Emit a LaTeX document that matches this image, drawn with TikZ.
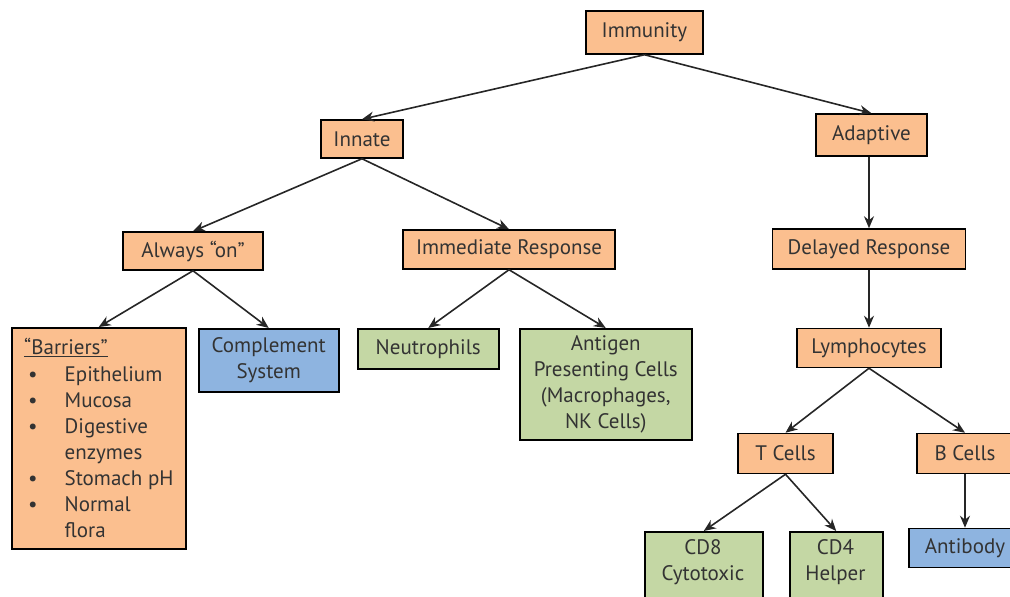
\documentclass[tikz,border=0pt]{standalone}
\usepackage{fontspec}
\setmainfont{PT Sans}
\usetikzlibrary{arrows.meta}
\definecolor{orbox}{HTML}{FBBF8F}
\definecolor{blbox}{HTML}{8EB4E0}
\definecolor{grbox}{HTML}{C4D7A4}
\definecolor{txt}{HTML}{333333}
\tikzset{
  box/.style={draw=black, line width=1.5pt, inner sep=0pt, align=center, text=txt,
    font=\fontsize{21}{26}\selectfont},
  orange/.style={box, fill=orbox},
  blue/.style={box, fill=blbox},
  green/.style={box, fill=grbox},
  lbl/.style={inner sep=0pt, align=center, text=txt, font=\fontsize{21}{26}\selectfont},
  conn/.style={line width=1.6pt, draw=black!85, -{Stealth[length=12pt,width=10pt]}}
}
\begin{document}
\begin{tikzpicture}[x=1pt,y=-1pt]
\useasboundingbox (0,0) rectangle (1010,597);
\clip (0,0) rectangle (1010,597);
\node[orange, minimum width=117, minimum height=43] (immunity) at (644.5,32.5) {Immunity};
\node[orange, minimum width=82, minimum height=38] (innate) at (362,139) {Innate};
\node[orange, minimum width=111, minimum height=42] (adaptive) at (871.5,135) {Adaptive};
\node[orange, minimum width=140, minimum height=38] (always) at (193,251) {Always “on”};
\node[orange, minimum width=212, minimum height=39] (immediate) at (509,249.5) {Immediate Response};
\node[orange, minimum width=193, minimum height=40] (delayed) at (869,249) {Delayed Response};
\node[orange, anchor=north west, minimum width=174, minimum height=221] (barriers) at (11,327) {};
\node[anchor=north west, inner sep=0pt, text=txt, font=\fontsize{21}{26}\selectfont, align=left] (barrierstext) at (24,338)
  {\underline{“Barriers”}\\[6pt]
   \begin{tabular}{@{\hspace{4pt}}l@{\hspace{27pt}}l@{}}
   \textbullet & Epithelium\\
   \textbullet & Mucosa\\
   \textbullet & Digestive\\
               & enzymes\\
   \textbullet & Stomach pH\\
   \textbullet & Normal\\
               & flora
   \end{tabular}};
\node[blue, anchor=north west, minimum width=140, minimum height=63] (complement) at (198,328) {Complement\\System};
\node[green, anchor=north west, minimum width=141, minimum height=40] (neutro) at (357,328) {Neutrophils};
\node[green, anchor=north west, minimum width=172, minimum height=111] (apc) at (519,328) {Antigen\\Presenting Cells\\(Macrophages,\\NK Cells)};
\node[orange, minimum width=144, minimum height=39] (lympho) at (869,348) {Lymphocytes};
\node[orange, minimum width=95, minimum height=40] (tcells) at (785.5,453.5) {T Cells};
\node[orange, minimum width=96, minimum height=40] (bcells) at (965,453.5) {B Cells};
\node[green, anchor=north west, minimum width=118, minimum height=80] (cd8) at (644,531) {};
\node[lbl] (cd8text) at (703,562) {CD8\\Cytotoxic};
\node[green, anchor=north west, minimum width=93, minimum height=80] (cd4) at (789,531) {};
\node[lbl] (cd4text) at (835.5,562) {CD4\\Helper};
\node[blue, minimum width=112, minimum height=39] (antibody) at (965,548) {Antibody};
\draw[conn] (immunity.south) -- (innate.north);
\draw[conn] (immunity.south) -- (adaptive.north);
\draw[conn] (innate.south) -- (always.north);
\draw[conn] (innate.south) -- (immediate.north);
\draw[conn] (always.south) -- (barriers.north);
\draw[conn] (always.south) -- (complement.north);
\draw[conn] (immediate.south) -- (neutro.north);
\draw[conn] (immediate.south) -- (apc.north);
\draw[conn] (delayed.north |- adaptive.south) -- (delayed.north);
\draw[conn] (delayed.south) -- (lympho.north);
\draw[conn] (lympho.south) -- (tcells.north);
\draw[conn] (lympho.south) -- (bcells.north);
\draw[conn] (tcells.south) -- (cd8.north);
\draw[conn] (tcells.south) -- (cd4.north);
\draw[conn] (bcells.south) -- (antibody.north);
\end{tikzpicture}
\end{document}
